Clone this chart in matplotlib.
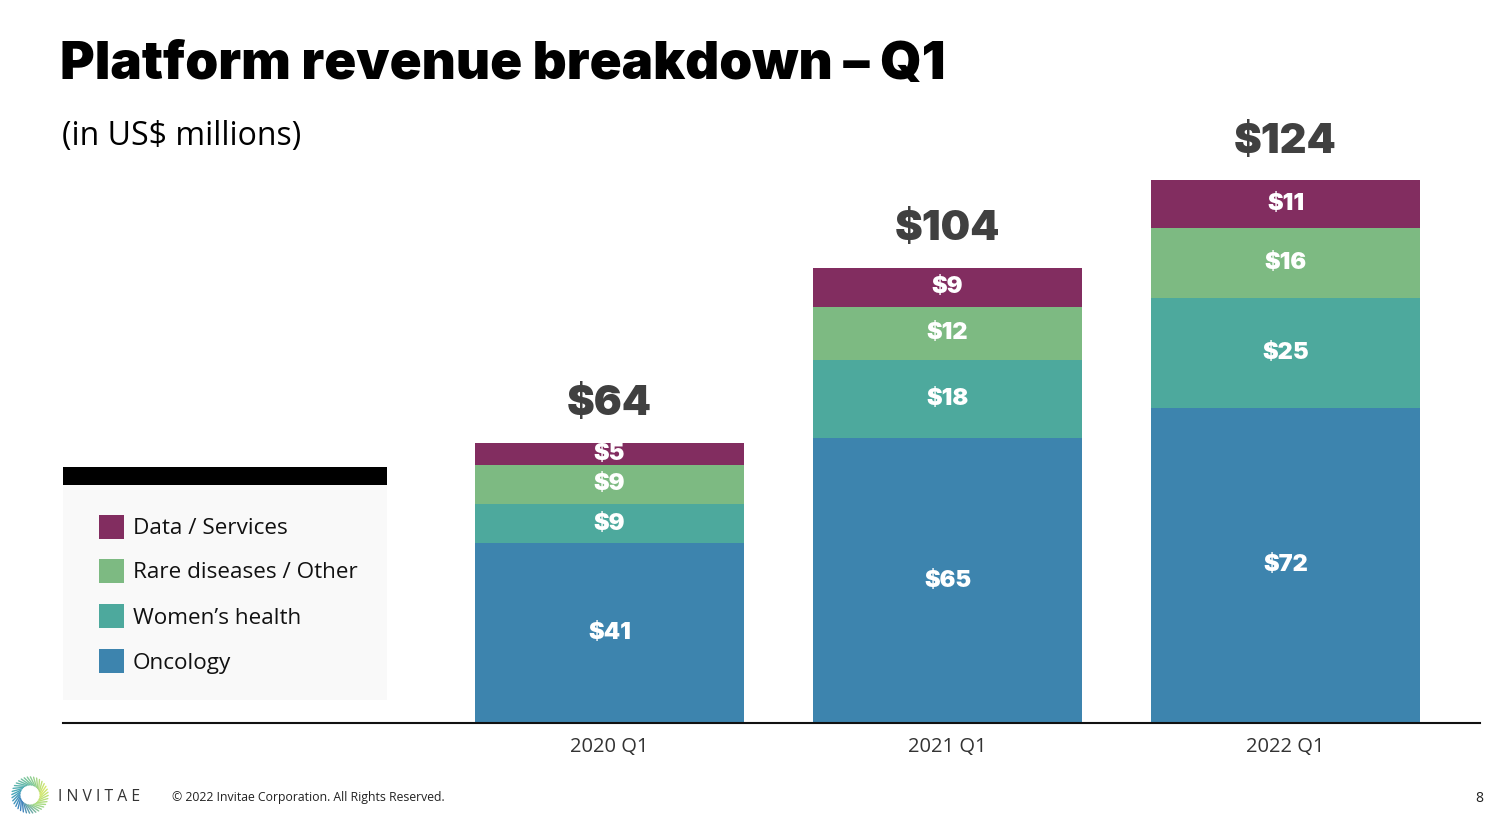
import numpy as np
import matplotlib
matplotlib.use("Agg")
import matplotlib.pyplot as plt
from matplotlib.patches import Rectangle

# ---------------- data ----------------
quarters = ["2020 Q1", "2021 Q1", "2022 Q1"]
oncology = [41, 65, 72]
womens_health = [9, 18, 25]
rare_other = [9, 12, 16]
data_services = [5, 9, 11]
totals = [64, 104, 124]

series_names = ["Oncology", "Women\u2019s health", "Rare diseases / Other", "Data / Services"]
series_values = [oncology, womens_health, rare_other, data_services]
series_colors = ["#3d84ae", "#4da99d", "#7dba82", "#822d60"]

BODY = ["Open Sans", "DejaVu Sans"]
HEAVY = ["Inter", "Lato", "DejaVu Sans"]

W, H = 1506, 826
fig = plt.figure(figsize=(W / 100, H / 100), dpi=100)
fig.patch.set_facecolor("white")

def fx(px):
    return px / W

def fy(py):
    return 1 - py / H

# axes: baseline at y=723 px, x from 63 to 1480 px
ax_left, ax_right, ax_base, ax_top = 63, 1480, 723, 100
ax = fig.add_axes([fx(ax_left), fy(ax_base), fx(ax_right - ax_left), (ax_base - ax_top) / H])
px_per_unit_x = 338.0
x0_px = 609.5
ax.set_xlim((ax_left - x0_px) / px_per_unit_x, (ax_right - x0_px) / px_per_unit_x)
px_per_unit_y = 543.0 / 124.0
ax.set_ylim(0, (ax_base - ax_top) / px_per_unit_y)

x = np.arange(len(quarters))
bar_w = 269 / 338
bottom = np.zeros(len(quarters))
for name, vals, col in zip(series_names, series_values, series_colors):
    vals = np.array(vals, dtype=float)
    ax.bar(x, vals, bar_w, bottom=bottom, color=col, edgecolor="none", label=name, zorder=2)
    for xi, b, v in zip(x, bottom, vals):
        ax.text(xi, b + v / 2, f"${int(v)}", ha="center", va="center", color="white",
                fontsize=17, fontweight="black", family=HEAVY, zorder=3)
    bottom += vals

for xi, t in zip(x, totals):
    ax.annotate(f"${t}", (xi, t), xytext=(0, 14), textcoords="offset points",
                ha="center", va="bottom", fontsize=30, fontweight="black",
                color="#404040", family=HEAVY)

for s in ["top", "right", "left"]:
    ax.spines[s].set_visible(False)
ax.spines["bottom"].set_linewidth(1.5)
ax.spines["bottom"].set_color("#111111")
ax.set_yticks([])
ax.set_xticks(x)
ax.set_xticklabels(quarters, fontsize=14.5, color="#333333", family=BODY)
ax.tick_params(axis="x", length=0, pad=10)
ax.set_facecolor("none")

# ---------------- titles ----------------
fig.text(fx(60), fy(66), "Platform revenue breakdown \u2013 Q1", fontsize=38, fontweight="black",
         family=HEAVY, color="black", va="center", ha="left")
fig.text(fx(62), fy(137), "(in US$ millions)", fontsize=23, family=BODY, color="black",
         va="center", ha="left")

# ---------------- legend ----------------
fig.add_artist(Rectangle((fx(63), fy(700)), fx(387 - 63), (700 - 485) / H,
                         transform=fig.transFigure, facecolor="#f9f9f9", edgecolor="none"))
fig.add_artist(Rectangle((fx(63), fy(485)), fx(387 - 63), (485 - 467) / H,
                         transform=fig.transFigure, facecolor="black", edgecolor="none"))
row_y = [527, 571, 616, 661]
for yy, name, col in zip(row_y, series_names[::-1], series_colors[::-1]):
    fig.add_artist(Rectangle((fx(99), fy(yy + 12)), fx(25), 24 / H, transform=fig.transFigure,
                             facecolor=col, edgecolor="none"))
    fig.text(fx(133), fy(yy + 2), name, fontsize=16.2, family=BODY, color="#111111",
             va="center", ha="left")

# ---------------- footer ----------------
lax = fig.add_axes([fx(10), fy(815), fx(40), 40 / H])
lax.set_xlim(-1.1, 1.1)
lax.set_ylim(-1.1, 1.1)
lax.set_aspect("equal")
lax.axis("off")
cmap = matplotlib.colors.LinearSegmentedColormap.from_list(
    "inv", ["#d6e86a", "#7cc79a", "#4aa9b8", "#3d7fc0", "#9fd88a", "#d6e86a"])
n = 36
for i in range(n):
    a = 2 * np.pi * i / n
    r1, r2 = 0.55, 1.0
    a2 = a + 0.5
    lax.plot([r1 * np.cos(a), r2 * np.cos(a2)], [r1 * np.sin(a), r2 * np.sin(a2)],
             color=cmap(i / n), lw=1.0, solid_capstyle="round")

fig.text(fx(58), fy(797), "I N V I T A E", fontsize=11.3, family=BODY, color="#333333",
         va="center", ha="left")
fig.text(fx(172), fy(798), "\u00a9 2022 Invitae Corporation. All Rights Reserved.", fontsize=8.8,
         family=BODY, color="#222222", va="center", ha="left")
fig.text(fx(1479), fy(798), "8", fontsize=10, family=BODY, color="#222222", va="center", ha="center")

fig.savefig("out.png", dpi=100, facecolor="white")
